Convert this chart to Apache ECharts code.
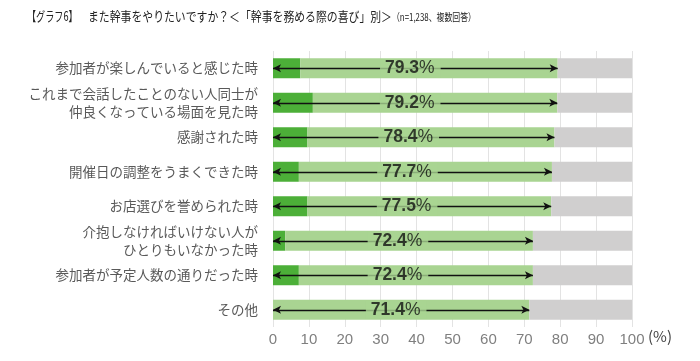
<!DOCTYPE html>
<html><head><meta charset="utf-8">
<script src="https://cdn.jsdelivr.net/npm/echarts@6/dist/echarts.min.js"></script>
<style>html,body{margin:0;padding:0;background:#fff}#c{width:700px;height:361px}</style>
</head><body><div id="c"></div>
<script>
const categories = [
  '参加者が楽しんでいると感じた時',
  'これまで会話したことのない人同士が\n仲良くなっている場面を見た時',
  '感謝された時',
  '開催日の調整をうまくできた時',
  'お店選びを誉められた時',
  '介抱しなければいけない人が\nひとりもいなかった時',
  '参加者が予定人数の通りだった時',
  'その他'
];
const totalValues = [79.3, 79.2, 78.4, 77.7, 77.5, 72.4, 72.4, 71.4];
const darkValues = [7.6, 11.1, 9.6, 7.2, 9.6, 3.4, 7.2, 0];
const xTicks = [0, 10, 20, 30, 40, 50, 60, 70, 80, 90, 100];

const lightValues = totalValues.map((v, i) => +(v - darkValues[i]).toFixed(1));
const restValues = totalValues.map(v => +(100 - v).toFixed(1));

const chart = echarts.init(document.getElementById('c'));
const cats = categories.slice().reverse();
const rev = a => a.slice().reverse();

const markData = totalValues.map((v, i) => [
  { coord: [0, categories[i]] },
  { coord: [v, categories[i]] }
]);
const labelData = totalValues.map((v, i) => ({ value: [v / 2, categories[i]], total: v }));

const FONT_CJK = 'Noto Sans CJK JP, sans-serif';
const FONT_LAT = 'Liberation Sans, Arial, sans-serif';

chart.setOption({
  animation: false,
  grid: { left: 273, right: 68, top: 51, bottom: 34 },
  xAxis: {
    type: 'value', min: 0, max: 100, interval: 10,
    axisLine: { show: false }, axisTick: { show: false },
    splitLine: { lineStyle: { color: '#e3e3e3', width: 1 } },
    axisLabel: { color: '#7f7f7f', fontSize: 15, margin: 5, fontFamily: FONT_LAT,
      formatter: v => xTicks.includes(v) ? String(v) : '' }
  },
  yAxis: {
    type: 'category', data: cats,
    axisLine: { show: false }, axisTick: { show: false },
    axisLabel: { color: '#595959', fontSize: 13.5, lineHeight: 18, margin: 15, align: 'right', fontFamily: FONT_CJK }
  },
  graphic: [
    { type: 'text', x: 27, y: 10, scaleX: 0.7, style: { text: '【グラフ6】', fontSize: 13, fill: '#222', fontFamily: FONT_CJK } },
    { type: 'text', x: 88, y: 10, scaleX: 0.835, style: { text: 'また幹事をやりたいですか？＜「幹事を務める際の喜び」別＞', fontSize: 13, fill: '#222', fontFamily: FONT_CJK } },
    { type: 'text', x: 392, y: 12, scaleX: 0.75, style: { text: '（n=1,238、複数回答）', fontSize: 10.5, fill: '#222', fontFamily: FONT_CJK } },
    { type: 'text', x: 648, y: 329, style: { text: '(%)', fontSize: 15, fill: '#404040', fontFamily: FONT_CJK } }
  ],
  series: [
    { type: 'bar', stack: 's', data: rev(darkValues), barWidth: 20, itemStyle: { color: '#4caf38' }, silent: true },
    { type: 'bar', stack: 's', data: rev(lightValues), barWidth: 20, itemStyle: { color: '#a9d492' }, silent: true },
    { type: 'bar', stack: 's', data: rev(restValues), barWidth: 20, itemStyle: { color: '#d0cfcf' }, silent: true },
    {
      type: 'line', data: [], silent: true, z: 3,
      markLine: {
        silent: true, animation: false,
        symbol: ['arrow', 'arrow'], symbolSize: [6, 8],
        lineStyle: { color: '#111', width: 1.3, type: 'solid' },
        label: { show: false },
        data: markData
      }
    },
    {
      type: 'scatter', data: labelData, symbolSize: 0, silent: true, z: 10,
      label: {
        show: true, position: 'inside', offset: [-5, 0],
        backgroundColor: '#a9d492', padding: [0, 6, 0, 5],
        formatter: p => '{a|' + p.data.total.toFixed(1) + '}{b|%}',
        rich: {
          a: { fontSize: 17.5, fontWeight: 'bold', color: '#111', fontFamily: FONT_LAT },
          b: { fontSize: 17.5, color: '#111', fontFamily: FONT_LAT }
        }
      }
    }
  ]
});
</script></body></html>
